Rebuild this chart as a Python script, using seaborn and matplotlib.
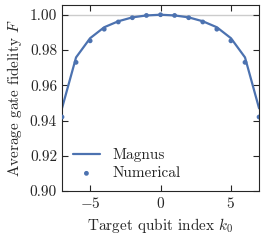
import numpy as np
import pandas as pd
import matplotlib
matplotlib.use("Agg")
import matplotlib.pyplot as plt
import seaborn as sns

k0 = [-7, -6, -5, -4, -3, -2, -1, 0, 1, 2, 3, 4, 5, 6, 7]
magnus = [0.9469, 0.9758, 0.9867, 0.9929, 0.9963, 0.9985, 0.9996, 1.0,
          0.9996, 0.9985, 0.9963, 0.9929, 0.9867, 0.9758, 0.9469]
numerical = [0.9420, 0.9730, 0.9852, 0.9918, 0.9959, 0.9983, 0.9996, 1.0,
             0.9996, 0.9983, 0.9959, 0.9918, 0.9852, 0.9730, 0.9420]

sns.set_style("ticks")
plt.rcParams["font.family"] = ["cmr10"]
plt.rcParams["mathtext.fontset"] = "cm"
plt.rcParams["axes.formatter.use_mathtext"] = True
plt.rcParams["axes.unicode_minus"] = True

df = pd.DataFrame({"k0": k0, "magnus": magnus, "numerical": numerical})
blue = "#4C72B0"

fig = plt.figure(figsize=(2.66, 2.40), dpi=100)
ax = fig.add_axes([0.233, 0.204, 0.741, 0.775])
ax.axhline(1.0, color="#cccccc", lw=1.0, zorder=0)
sns.lineplot(data=df, x="k0", y="magnus", ax=ax, color=blue, lw=1.6, label="Magnus")
sns.scatterplot(data=df, x="k0", y="numerical", ax=ax, color=blue, s=12,
                edgecolor="none", label="Numerical", zorder=3, clip_on=True)
ax.set_xlim(-7, 7)
ax.set_ylim(0.90, 1.0055)
ax.set_xticks([-5, 0, 5])
ax.set_yticks([0.90, 0.92, 0.94, 0.96, 0.98, 1.00])
ax.set_yticklabels(["0.90", "0.92", "0.94", "0.96", "0.98", "1.00"])
ax.tick_params(direction="in", top=True, right=True, labelsize=11, length=4, width=0.8)
ax.set_xlabel(r"Target qubit index $k_0$", fontsize=11)
ax.set_ylabel(r"Average gate fidelity $F$", fontsize=11)
for s in ax.spines.values():
    s.set_linewidth(0.8)
ax.legend(loc="lower left", frameon=False, fontsize=11, handlelength=1.8,
          borderaxespad=0.3, labelspacing=0.3)
fig.savefig("out.png", dpi=100)
